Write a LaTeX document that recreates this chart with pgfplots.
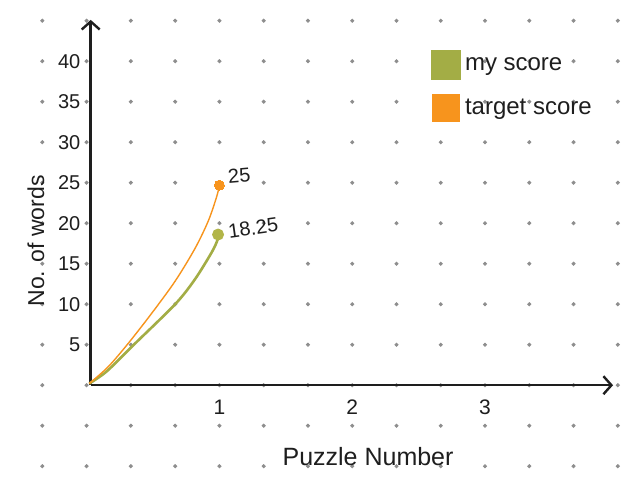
\documentclass[border=0pt]{standalone}
\usepackage{fontspec}
\setmainfont{Liberation Sans}
\usepackage{pgfplots}
\pgfplotsset{compat=1.18}
\usetikzlibrary{arrows.meta}
\definecolor{olive}{HTML}{A3AD45}
\definecolor{olivemark}{HTML}{B2B548}
\definecolor{orng}{HTML}{F7941D}
\definecolor{dotgray}{HTML}{8E8E8E}
\definecolor{ink}{HTML}{1E1E1E}
\begin{document}
\begin{tikzpicture}
% background dot paper
\begin{axis}[
  anchor=south west, at={(0pt,0pt)},
  x=22.135pt, y=4.05pt,
  xmin=-1.956, xmax=12.433, ymin=-12.198, ymax=47.556,
  axis line style={draw=none}, ticks=none,
  axis background/.style={fill=white},
  clip=false,
]
\addplot[only marks, mark=*, mark size=0.8pt, color=dotgray] coordinates {
(-1,-10) (0,-10) (1,-10) (2,-10) (3,-10) (4,-10) (5,-10) (6,-10) (7,-10) (8,-10) (9,-10) (10,-10) (11,-10) (12,-10)
(-1,-5) (0,-5) (1,-5) (2,-5) (3,-5) (4,-5) (5,-5) (6,-5) (7,-5) (8,-5) (9,-5) (10,-5) (11,-5) (12,-5)
(-1,0) (0,0) (1,0) (2,0) (3,0) (4,0) (5,0) (6,0) (7,0) (8,0) (9,0) (10,0) (11,0) (12,0)
(-1,5) (0,5) (1,5) (2,5) (3,5) (4,5) (5,5) (6,5) (7,5) (8,5) (9,5) (10,5) (11,5) (12,5)
(-1,10) (0,10) (1,10) (2,10) (3,10) (4,10) (5,10) (6,10) (7,10) (8,10) (9,10) (10,10) (11,10) (12,10)
(-1,15) (0,15) (1,15) (2,15) (3,15) (4,15) (5,15) (6,15) (7,15) (8,15) (9,15) (10,15) (11,15) (12,15)
(-1,20) (0,20) (1,20) (2,20) (3,20) (4,20) (5,20) (6,20) (7,20) (8,20) (9,20) (10,20) (11,20) (12,20)
(-1,25) (0,25) (1,25) (2,25) (3,25) (4,25) (5,25) (6,25) (7,25) (8,25) (9,25) (10,25) (11,25) (12,25)
(-1,30) (0,30) (1,30) (2,30) (3,30) (4,30) (5,30) (6,30) (7,30) (8,30) (9,30) (10,30) (11,30) (12,30)
(-1,35) (0,35) (1,35) (2,35) (3,35) (4,35) (5,35) (6,35) (7,35) (8,35) (9,35) (10,35) (11,35) (12,35)
(-1,40) (0,40) (1,40) (2,40) (3,40) (4,40) (5,40) (6,40) (7,40) (8,40) (9,40) (10,40) (11,40) (12,40)
(-1,45) (0,45) (1,45) (2,45) (3,45) (4,45) (5,45) (6,45) (7,45) (8,45) (9,45) (10,45) (11,45) (12,45)
};
\end{axis}
% main chart
\begin{axis}[
  anchor=south west, at={(45.35pt,49.4pt)},
  x=66.405pt, y=4.05pt,
  xmin=0.031, xmax=3.964, ymin=0, ymax=45.1,
  axis lines=left,
  axis line style={ink, line width=1.2pt, -{Straight Barb[length=4pt, width=9pt, line width=1.2pt]}},
  clip=false,
  xtick={1,2,3}, ytick={5,10,...,40},
  major tick length=0pt, tick style={draw=none},
  /pgf/number format/assume math mode=true,
  xticklabel style={inner sep=0pt, yshift=-7pt, font=\fontsize{10.5}{12}\selectfont, text=ink},
  yticklabel style={inner sep=0pt, xshift=-5pt, font=\fontsize{10}{12}\selectfont, text=ink},
  xlabel={Puzzle Number},
  xlabel style={at={(axis description cs:0.531,-0.1966)}, anchor=center, font=\fontsize{12.5}{14}\selectfont, text=ink},
  ylabel={No. of words},
  ylabel style={at={(axis description cs:-0.1047,0.3948)}, anchor=center, font=\fontsize{11.5}{14}\selectfont, text=ink},
  legend style={at={(axis description cs:0.6515,0.9179)}, anchor=north west, draw=none, fill=none,
    inner sep=0pt, row sep=7pt, font=\fontsize{12}{14}\selectfont, text=ink},
  legend cell align=left,
]
\addplot[olive, line width=1.3pt, smooth, mark=*, mark indices={8}, mark size=2.3pt,
  mark options={fill=olivemark, draw=olivemark},
  legend image code/.code={\fill[olive] (0pt,-6.75pt) rectangle (13.5pt,6.75pt);}]
  coordinates {(0.02,0.2) (0.151,1.7) (0.34,4.75) (0.667,10.0) (0.817,13.1) (0.942,16.4) (0.985,17.9) (0.99,18.6)}
  node[pos=1, anchor=west, inner sep=0pt, xshift=4.5pt, yshift=1.5pt, rotate=8, text=ink, font=\fontsize{10}{12}\selectfont] {18.25};
\addlegendentry{my score}
\addplot[orng, line width=0.7pt, smooth, mark=*, mark indices={9}, mark size=2.5pt,
  mark options={fill=orng, draw=orng, line width=0pt},
  legend image code/.code={\fill[orng] (0pt,-6.75pt) rectangle (13.5pt,6.75pt);}]
  coordinates {(0.02,0.2) (0.163,2.28) (0.314,5.17) (0.49,8.87) (0.667,12.85) (0.817,16.9) (0.917,20.3) (0.98,23.3) (1.0,24.7)}
  node[pos=1, anchor=west, inner sep=0pt, xshift=4pt, yshift=4pt, rotate=5, text=ink, font=\fontsize{10}{12}\selectfont] {25};
\addlegendentry{target score}
\end{axis}
\end{tikzpicture}
\end{document}
